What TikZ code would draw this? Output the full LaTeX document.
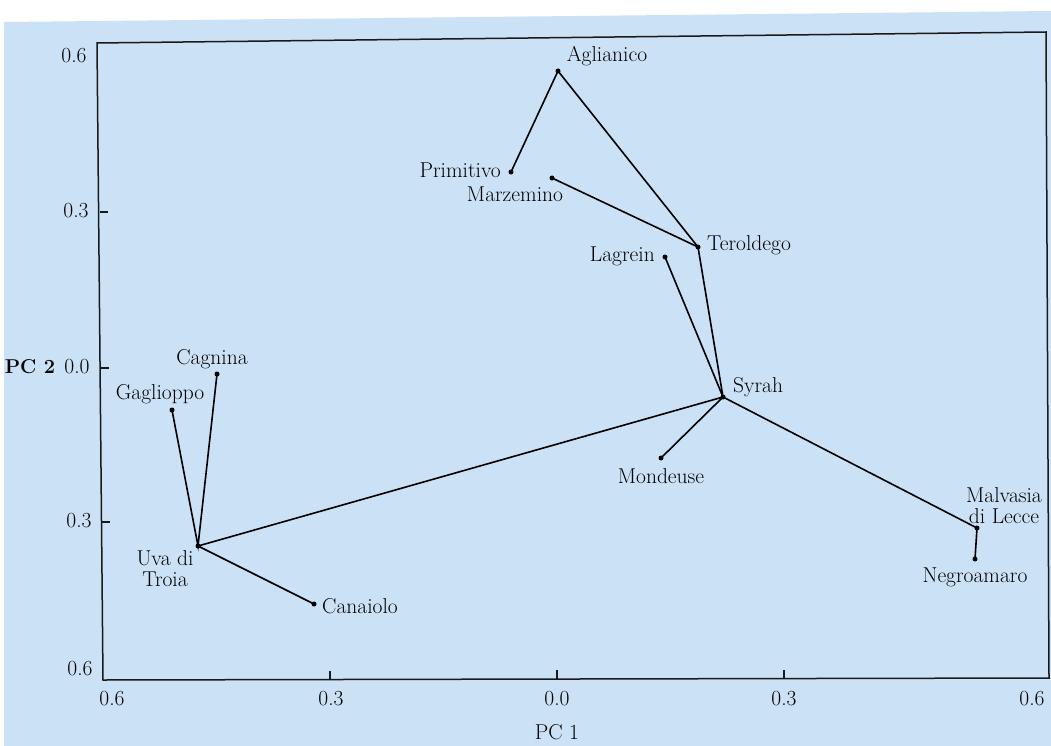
\documentclass[tikz,border=0pt]{standalone}
\usepackage{fontspec}
\begin{document}
\begin{tikzpicture}[x=1pt,y=-1pt,
  dot/.style={circle,fill=black,inner sep=0pt,minimum size=5pt},
  lbl/.style={inner sep=1pt,font=\fontsize{21.5}{22}\selectfont,text=black},
  twoline/.style={lbl,align=center,font=\fontsize{21.5}{21}\selectfont},
  tick/.style={inner sep=1pt,font=\fontsize{21.5}{22}\selectfont,text=black},
  link/.style={line width=1.6pt,black},
  frame/.style={line width=1.5pt,black!90}]
\definecolor{paper}{RGB}{203,225,245}
\useasboundingbox (0,0) rectangle (1051,746);
% page and the tinted sheet
\fill[white] (0,0) rectangle (1051,746);
\fill[paper] (4,22) -- (1051,11) -- (1051,746) -- (4,746) -- cycle;
% plot frame
\draw[frame] (97,43) -- (1046,32) -- (1049,678) -- (103,680) -- cycle;
% ticks on the left axis
\draw[frame] (100,212) -- (108,212);
\draw[frame] (101,368) -- (109,368);
\draw[frame] (102,522) -- (110,522);
% ticks on the bottom axis
\draw[frame] (330,680) -- (330,671);
\draw[frame] (557,679) -- (557,670);
\draw[frame] (784,679) -- (784,670);
% axis numbers
\node[tick] (y1) at (74,56) {0.6};
\node[tick] (y2) at (76,211) {0.3};
\node[tick] (y3) at (77,367) {0.0};
\node[tick] (y4) at (79,521) {0.3};
\node[tick] (y5) at (80,669) {0.6};
\node[tick] (x1) at (112,699) {0.6};
\node[tick] (x2) at (331,699) {0.3};
\node[tick] (x3) at (557,699) {0.0};
\node[tick] (x4) at (784,699) {0.3};
\node[tick] (x5) at (1032,699) {0.6};
\node[tick,font=\bfseries\fontsize{20}{22}\selectfont] (pc2) at (30,367) {PC 2};
\node[tick] (pc1) at (557,732) {PC 1};
% cultivars
\node[dot] (agl) at (558,71) {};
\node[dot] (pri) at (511,172) {};
\node[dot] (mar) at (552,178) {};
\node[dot] (ter) at (698,247) {};
\node[dot] (lag) at (665,257) {};
\node[dot] (syr) at (723,397) {};
\node[dot] (mon) at (661,458) {};
\node[dot] (mal) at (977,528) {};
\node[dot] (neg) at (975,559) {};
\node[dot] (cag) at (217,374) {};
\node[dot] (gag) at (172,410) {};
\node[dot] (uva) at (198,546) {};
\node[dot] (can) at (314,604) {};
% names
\node[lbl] (aglT) at (607,56) {Aglianico};
\node[lbl,anchor=east] (priT) at (502,170) {Primitivo};
\node[lbl] (marT) at (515,194) {Marzemino};
\node[lbl,anchor=west] (terT) at (706,245) {Teroldego};
\node[lbl,anchor=east] (lagT) at (656,256) {Lagrein};
\node[lbl,anchor=west] (syrT) at (732,387) {Syrah};
\node[lbl] (monT) at (661,476) {Mondeuse};
\node[twoline] (malT) at (1004,506) {Malvasia\\di Lecce};
\node[lbl] (negT) at (975,577) {Negroamaro};
\node[lbl] (cagT) at (212,359) {Cagnina};
\node[lbl] (gagT) at (160,394) {Gaglioppo};
\node[twoline] (uvaT) at (165,569) {Uva di\\Troia};
\node[lbl,anchor=west] (canT) at (321,606) {Canaiolo};
% connections
\draw[link] (pri.center) -- (agl.center) -- (ter.center);
\draw[link] (mar.center) -- (ter.center) -- (syr.center);
\draw[link] (lag.center) -- (syr.center);
\draw[link] (syr.center) -- (mon.center);
\draw[link] (syr.center) -- (mal.center) -- (neg.center);
\draw[link] (syr.center) -- (uva.center);
\draw[link] (gag.center) -- (uva.center) -- (cag.center);
\draw[link] (uva.center) -- (can.center);
\end{tikzpicture}
\end{document}
